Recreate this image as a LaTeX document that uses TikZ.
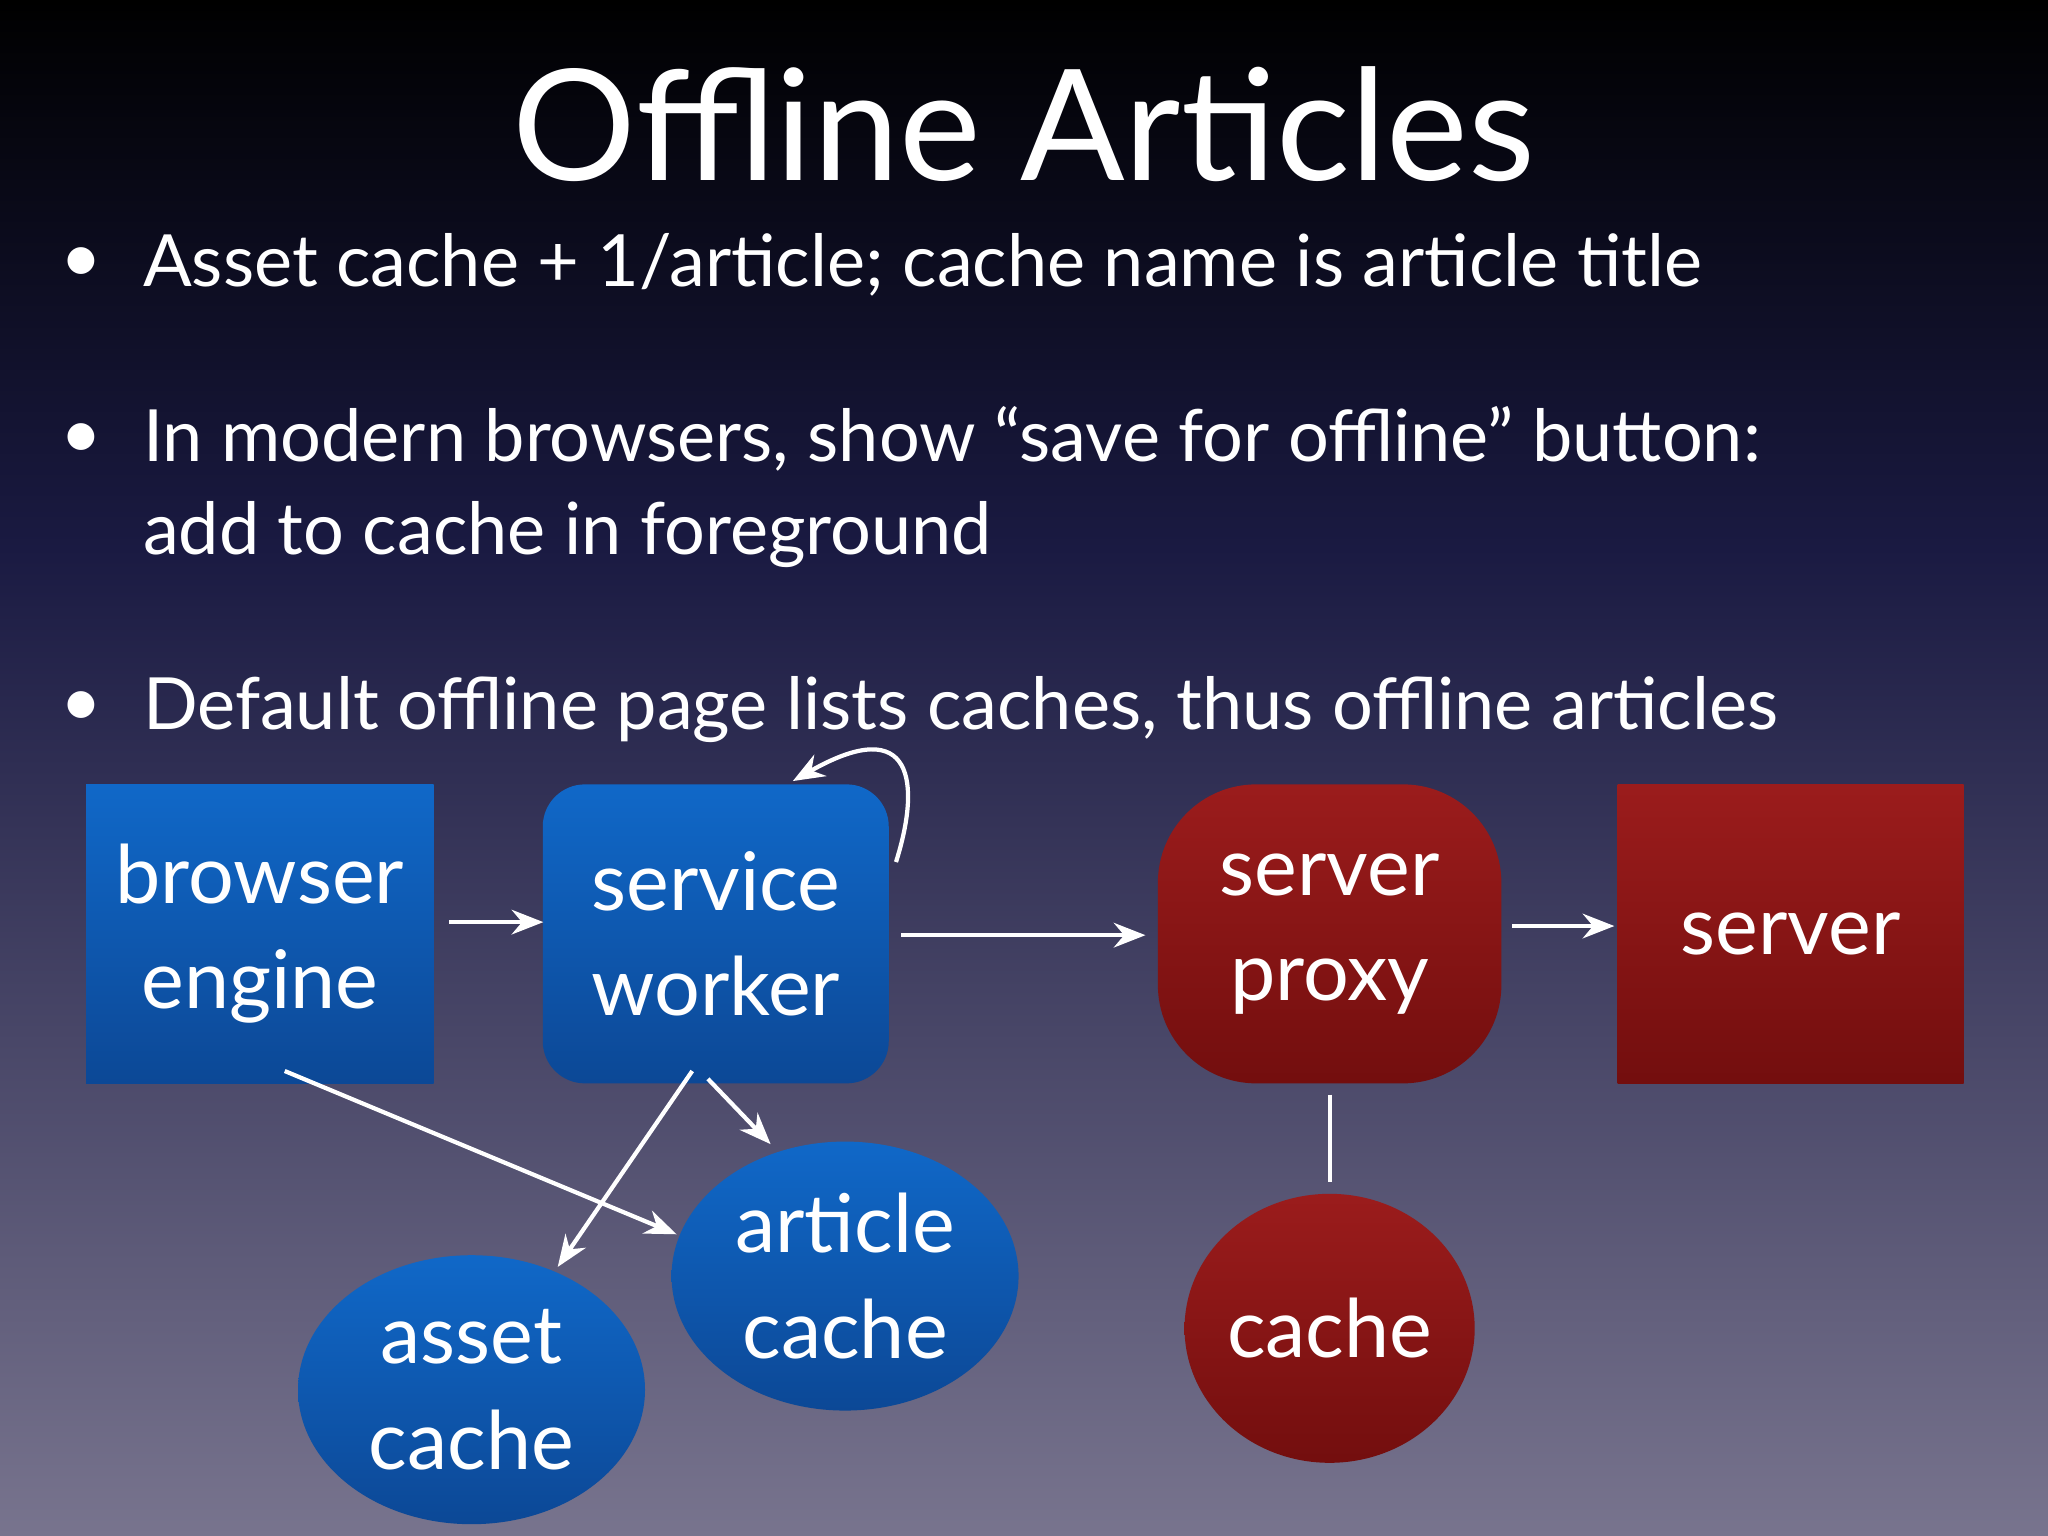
\documentclass[tikz,border=0pt]{standalone}
\usepackage{fontspec}
\setmainfont{Lato}
\usetikzlibrary{arrows.meta,shapes.geometric}
\definecolor{btop}{RGB}{16,104,200}
\definecolor{bbot}{RGB}{12,72,150}
\definecolor{rtop}{RGB}{155,28,28}
\definecolor{rbot}{RGB}{115,14,14}
\definecolor{bgmid}{RGB}{26,26,66}
\definecolor{bgbot}{RGB}{120,116,142}
\begin{document}
\begin{tikzpicture}[x=0.013061cm,y=-0.013061cm,
  blu/.style={draw=none,top color=btop,bottom color=bbot,text=white,align=center,font=\fontsize{23}{30}\selectfont},
  rd/.style={draw=none,top color=rtop,bottom color=rbot,text=white,align=center,font=\fontsize{23}{30}\selectfont},
  arr/.style={white,line width=1.2pt,-{Stealth[length=9pt,width=7pt]}},
  bul/.style={text=white,anchor=west,align=left,font=\fontsize{20.5}{26.5}\selectfont}]
\useasboundingbox (0,0) rectangle (1568,1176);
\shade[top color=black,bottom color=bgmid] (0,0) rectangle (1568,420);
\shade[top color=bgmid,bottom color=bgbot] (0,419) rectangle (1568,1176);
\node[text=white,font=\fontsize{44}{50}\selectfont] (title) at (784,95) {Offline Articles};
\node[text=white,font=\fontsize{20.5}{26}\selectfont] (d1) at (62,203) {•};
\node[text=white,font=\fontsize{20.5}{26}\selectfont] (d2) at (62,338) {•};
\node[text=white,font=\fontsize{20.5}{26}\selectfont] (d3) at (62,543) {•};
\node[bul] (b1) at (100,203) {Asset cache + 1/article; cache name is article title};
\node[bul] (b2) at (100,373) {In modern browsers, show “save for offline” button:\\add to cache in foreground};
\node[bul] (b3) at (100,543) {Default offline page lists caches, thus offline articles};
\node[blu,minimum width=3.474cm,minimum height=2.99cm] (be) at (199,715) {browser\\engine};
\node[blu,rounded corners=12pt,minimum width=3.46cm,minimum height=2.99cm] (sw) at (548,715) {service\\worker};
\node[rd,rounded corners=28pt,minimum width=3.435cm,minimum height=2.99cm] (sp) at (1018,715) {server\\proxy};
\node[rd,minimum width=3.46cm,minimum height=2.99cm] (sv) at (1371,715) {server};
\node[blu,ellipse,minimum width=3.47cm,minimum height=2.69cm,inner sep=0pt] (ac) at (647,977) {article\\cache};
\node[blu,ellipse,minimum width=3.47cm,minimum height=2.69cm,inner sep=0pt] (as) at (361,1064) {asset\\cache};
\node[rd,ellipse,minimum width=2.9cm,minimum height=2.69cm,inner sep=0pt] (ca) at (1018,1017) {cache};
\coordinate (l1) at (344,706); \coordinate (r1) at (416,706);
\coordinate (l2) at (690,716); \coordinate (r2) at (877,716);
\coordinate (l3) at (1158,709); \coordinate (r3) at (1236,709);
\coordinate (l4) at (1018,838); \coordinate (r4) at (1018,905);
\coordinate (l5) at (218,820); \coordinate (r5) at (518,945);
\coordinate (l6) at (530,820); \coordinate (r6) at (427,970);
\coordinate (l7) at (542,826); \coordinate (r7) at (590,876);
\coordinate (l8) at (686,660); \coordinate (r8) at (607,598);
\draw[arr] (l1) -- (r1);
\draw[arr] (l2) -- (r2);
\draw[arr] (l3) -- (r3);
\draw[white,line width=1.2pt] (l4) -- (r4);
\draw[arr] (l5) -- (r5);
\draw[arr] (l6) -- (r6);
\draw[arr] (l7) -- (r7);
\draw[arr] (l8) .. controls (705,600) and (700,545) .. (r8);
\end{tikzpicture}
\end{document}
